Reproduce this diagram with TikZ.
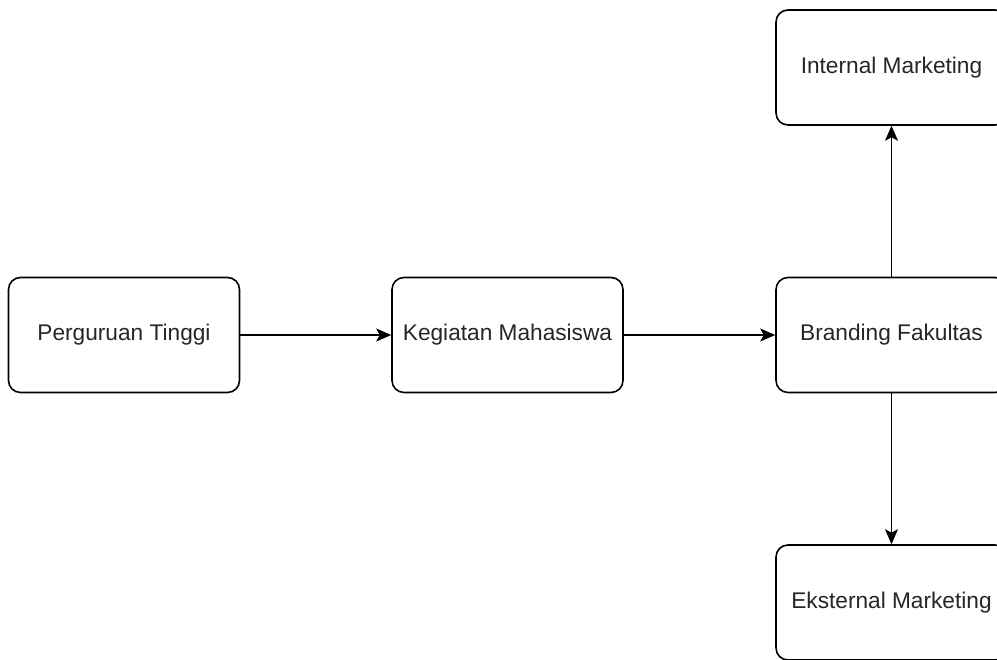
\documentclass[tikz,border=0pt]{standalone}
\usepackage{fontspec}
\setmainfont{Liberation Sans}
\usetikzlibrary{arrows.meta,positioning}

\begin{document}
\begin{tikzpicture}[box/.style={draw,line width=0.9pt,rounded corners=0.24cm,minimum height=2.3cm,minimum width=4.62cm,font=\fontsize{12.9}{15}\selectfont,text=black!85}]
	\useasboundingbox (0,0) rectangle (19.94,-13.2);

	\node[box,xshift=2.48cm,yshift=-6.7cm](PT){Perguruan Tinggi};
	\node[box,xshift=10.15cm,yshift=-6.7cm](KM){Kegiatan Mahasiswa};
	\node[box,xshift=17.83cm,yshift=-6.7cm](BF){Branding Fakultas};
	\node[box,xshift=17.83cm,yshift=-1.35cm](IM){Internal Marketing};
	\node[box,xshift=17.83cm,yshift=-12.05cm](EM){Eksternal Marketing};

	\path [-{Stealth[length=0.3cm,width=0.26cm,inset=0.07cm]},line width=0.9pt]
		(PT.east) edge node {} (KM.west)
		(KM.east) edge node {} (BF.west)
		(BF.north) edge node {} (IM.south)
		(BF.south) edge node {} (EM.north);
\end{tikzpicture}
\end{document}
